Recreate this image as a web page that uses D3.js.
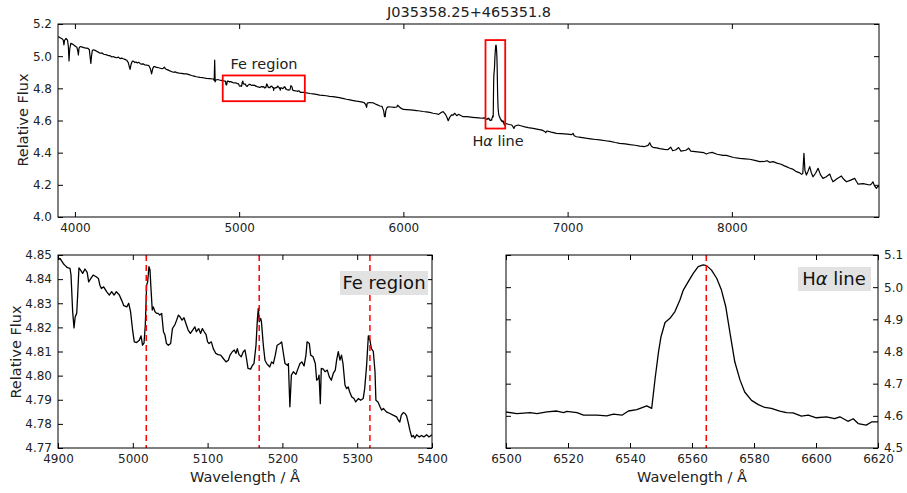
<!DOCTYPE html>
<html><head><meta charset="utf-8">
<script src="https://cdn.jsdelivr.net/npm/d3@7/dist/d3.min.js"></script>
<style>
body{margin:0;background:#fff;}
svg{display:block;font-family:"DejaVu Sans",sans-serif;}
</style></head>
<body><svg id="c" width="907" height="493"></svg>
<script>
// ---------- DATA ----------
const title = "J035358.25+465351.8";

// full spectrum (outside the zoomed windows)
const specWave = [3897,3905,3915,3922,3929,3933,3937,3946,3955,3960,3964,3968,3975,3985,3995,4005,4012,4018,4021,4025,4032,4041,4050,4060,4070,4080,4088,4093,4097,4101,4106,4112,4122,4133,4143,4153,4165,4175,4188,4200,4215,4225,4234,4245,4255,4265,4275,4285,4294,4305,4315,4325,4332,4336,4342,4350,4358,4365,4372,4380,4388,4396,4405,4415,4425,4437,4450,4460,4467,4473,4480,4487,4497,4510,4520,4530,4538,4545,4552,4565,4575,4587,4599,4610,4620,4635,4650,4665,4680,4695,4710,4725,4740,4761,4780,4800,4820,4842,4848,4851,4854,4858,4870,4880,4890,
5410,5430,5450,5470,5491,5510,5530,5550,5572,5590,5610,5630,5654,5675,5695,5715,5735,5750,5760,5770,5776,5780,5795,5816,5835,5857,5870,5880,5885,5889,5893,5900,5908,5925,5945,5960,5965,5970,5980,5999,6020,6040,6060,6080,6100,6120,6140,6160,6181,6200,6215,6230,6242,6255,6265,6273,6282,6293,6303,6313,6325,6335,6344,6355,6364,6380,6400,6420,6440,6460,6480,6490,
6628,6645,6660,6668,6673,6680,6699,6720,6740,6760,6790,6820,6845,6860,6867,6875,6900,6932,6960,7000,7025,7033,7040,7054,7080,7110,7140,7170,7196,7230,7260,7290,7317,7350,7380,7410,7439,7470,7490,7500,7510,7520,7550,7561,7590,7610,7628,7640,7660,7676,7690,7720,7737,7750,7790,7830,7845,7860,7880,7910,7946,7967,8010,8048,8080,8109,8140,8170,8200,8215,8230,8251,8275,8300,8320,8332,8350,8370,8393,8410,8425,8432,8439,8445,8454,8464,8474,8484,8494,8510,8525,8540,8555,8575,8596,8606,8616,8640,8667,8680,8698,8720,8748,8758,8768,8800,8839,8850,8859,8868,8880,8888,8896];
const specFlux = [5.121,5.118,5.112,5.108,5.100,5.070,5.098,5.110,5.100,5.060,4.970,5.040,5.080,5.075,5.068,5.060,5.055,5.030,5.007,5.050,5.060,5.058,5.055,5.052,5.050,5.048,5.040,4.990,4.955,5.000,5.035,5.040,5.036,5.030,5.025,5.018,5.020,5.012,5.010,5.005,5.002,4.995,4.998,4.992,4.990,4.994,4.985,4.988,4.984,4.980,4.975,4.960,4.930,4.918,4.950,4.970,4.968,4.960,4.964,4.958,4.962,4.955,4.950,4.952,4.946,4.944,4.942,4.920,4.890,4.920,4.935,4.935,4.930,4.928,4.925,4.922,4.925,4.932,4.920,4.915,4.910,4.905,4.900,4.902,4.898,4.895,4.893,4.890,4.890,4.885,4.880,4.876,4.872,4.868,4.866,4.862,4.860,4.858,4.850,4.976,4.840,4.852,4.855,4.852,4.850,
4.772,4.768,4.765,4.762,4.758,4.756,4.754,4.750,4.748,4.745,4.742,4.738,4.732,4.728,4.724,4.720,4.717,4.714,4.712,4.700,4.682,4.708,4.712,4.710,4.700,4.690,4.688,4.660,4.624,4.624,4.660,4.680,4.685,4.684,4.682,4.684,4.695,4.690,4.680,4.669,4.668,4.666,4.664,4.662,4.659,4.656,4.654,4.650,4.645,4.642,4.638,4.650,4.655,4.640,4.620,4.599,4.620,4.635,4.634,4.645,4.630,4.638,4.634,4.628,4.624,4.624,4.622,4.620,4.618,4.616,4.614,4.616,
4.580,4.575,4.572,4.560,4.551,4.566,4.572,4.566,4.560,4.556,4.551,4.545,4.540,4.532,4.524,4.535,4.528,4.520,4.518,4.515,4.512,4.520,4.505,4.499,4.495,4.490,4.486,4.482,4.479,4.474,4.470,4.463,4.458,4.455,4.450,4.446,4.441,4.438,4.445,4.462,4.440,4.433,4.428,4.425,4.420,4.418,4.434,4.412,4.418,4.432,4.410,4.415,4.428,4.410,4.405,4.400,4.392,4.398,4.402,4.390,4.383,4.383,4.370,4.365,4.362,4.359,4.352,4.344,4.346,4.350,4.340,4.344,4.335,4.328,4.318,4.313,4.305,4.298,4.282,4.276,4.265,4.270,4.396,4.290,4.261,4.285,4.313,4.275,4.250,4.272,4.303,4.262,4.240,4.250,4.267,4.240,4.219,4.238,4.255,4.236,4.219,4.228,4.240,4.222,4.205,4.208,4.199,4.205,4.219,4.195,4.178,4.190,4.188];

// Fe region window
const feWave = [4900,4902.7,4905,4907,4909,4911.6,4913.8,4916,4917.4,4919.6,4921.4,4923,4925,4926.3,4928,4930,4933,4936,4939,4941,4944,4947,4951,4954,4956,4958,4961,4965,4968.6,4971.7,4975,4978,4982,4985,4988,4992,4994.5,4997,5000,5002,5005,5008.7,5011,5013,5015,5016.7,5018.5,5019.9,5021.6,5023,5024.3,5026,5027.4,5029.7,5032,5034,5036,5038.6,5041,5043,5045,5047.5,5050.6,5053,5056.4,5058.6,5061,5063,5065.8,5068.4,5071,5074,5077,5080,5083,5085,5088,5090.7,5093,5095,5098,5100,5102,5105,5107.6,5111,5114,5117.5,5121,5124.6,5127.7,5130,5133,5135.7,5138,5139.7,5142,5145,5147.7,5150,5152,5154,5157.5,5160,5162,5164.7,5166.5,5167.8,5169,5171,5172,5174.5,5176.7,5179,5181,5183,5185.6,5187.9,5190.5,5193,5196.8,5199,5201,5203.5,5206.6,5208,5210,5212,5214.6,5218,5221,5223.5,5226,5229,5231.5,5233,5236,5237.8,5241,5244,5245.8,5248,5249,5250.7,5252,5254.7,5257,5260,5262.7,5265.4,5268,5270.7,5272.5,5274.7,5277,5279,5281,5283.7,5285.9,5288,5290,5292.6,5295.7,5298,5301.5,5304.6,5308,5310,5312.6,5314.9,5317,5319,5321.5,5323.8,5325,5327.8,5330.5,5332.7,5335,5339,5343.8,5348,5352.7,5355,5357,5359,5361.6,5364,5366,5368,5370.5,5372.8,5375,5377,5379.5,5383,5386,5389,5392.8,5396,5400];
const feFlux = [4.848,4.8486,4.8475,4.8465,4.8458,4.845,4.8447,4.8445,4.8417,4.8265,4.8198,4.8244,4.8258,4.8334,4.8447,4.8438,4.8424,4.8442,4.8428,4.8389,4.8403,4.8417,4.841,4.8403,4.8375,4.8361,4.8368,4.8348,4.8334,4.8348,4.8334,4.8348,4.8334,4.8313,4.829,4.8285,4.83,4.8265,4.8182,4.814,4.8137,4.8147,4.8165,4.8126,4.8135,4.8209,4.8375,4.8389,4.8452,4.8438,4.8361,4.8272,4.8285,4.8265,4.8258,4.8258,4.8251,4.8258,4.8182,4.8168,4.8133,4.8126,4.8133,4.8195,4.8212,4.823,4.8251,4.8244,4.823,4.824,4.8216,4.8189,4.8175,4.8189,4.8202,4.8182,4.8195,4.8175,4.8195,4.8184,4.817,4.814,4.8133,4.814,4.8112,4.8092,4.8087,4.8085,4.8071,4.8057,4.8064,4.8085,4.8099,4.8106,4.8092,4.8112,4.8087,4.8078,4.8099,4.8106,4.8071,4.803,4.8027,4.8043,4.805,4.8126,4.823,4.8279,4.8223,4.8237,4.8223,4.8126,4.8064,4.805,4.8043,4.8036,4.8057,4.805,4.8085,4.8126,4.8133,4.814,4.8099,4.805,4.8043,4.805,4.7871,4.8002,4.8016,4.8005,4.803,4.805,4.8057,4.804,4.8085,4.814,4.8133,4.8085,4.8078,4.805,4.7981,4.7988,4.8002,4.7884,4.803,4.8027,4.8016,4.8023,4.7995,4.7981,4.8009,4.8023,4.8064,4.8099,4.8064,4.8085,4.805,4.796,4.7946,4.7953,4.7932,4.7912,4.7905,4.7891,4.7905,4.7898,4.7905,4.7946,4.8043,4.8165,4.8147,4.8112,4.8101,4.8016,4.7898,4.7891,4.7871,4.7857,4.7864,4.785,4.7843,4.7836,4.7829,4.7815,4.7808,4.7836,4.7847,4.7843,4.7833,4.7808,4.7773,4.7746,4.7752,4.7741,4.7755,4.7746,4.7752,4.7746,4.7755,4.7746,4.7755];

// H-alpha window
const haWave = [6500,6503.5,6507.8,6510,6513.2,6516.4,6518.6,6519.6,6522.9,6525,6529.3,6532.5,6534.7,6537.4,6539.5,6542.2,6545.4,6547,6548.1,6549.2,6550,6551.3,6552.9,6554.5,6556.1,6557.2,6558.8,6560.4,6562,6563.6,6564.7,6566.3,6568,6569.5,6570.9,6572.2,6573.8,6575.5,6577,6579.2,6581.4,6583.5,6585.6,6588.3,6590.5,6592.6,6595.3,6597.5,6600.1,6603.4,6606,6607.7,6610.3,6612,6613.6,6616.2,6617.9,6620];
const haFlux = [4.612,4.607,4.61,4.607,4.612,4.615,4.61,4.614,4.61,4.602,4.602,4.6,4.605,4.602,4.615,4.619,4.631,4.623,4.716,4.799,4.846,4.89,4.903,4.924,4.96,4.991,5.017,5.043,5.064,5.069,5.067,5.053,5.027,4.991,4.939,4.861,4.768,4.711,4.674,4.648,4.635,4.626,4.623,4.615,4.61,4.609,4.599,4.602,4.594,4.597,4.591,4.597,4.583,4.591,4.576,4.571,4.581,4.581];

const feLines = [5018, 5169, 5317];
const haLine = [6564.6];

const topXTicks = [4000,5000,6000,7000,8000];
const topYTicks = [4.0,4.2,4.4,4.6,4.8,5.0,5.2];
const feXTicks = [4900,5000,5100,5200,5300,5400];
const feYTicks = [4.77,4.78,4.79,4.80,4.81,4.82,4.83,4.84,4.85];
const haXTicks = [6500,6520,6540,6560,6580,6600,6620];
const haYTicks = [4.5,4.6,4.7,4.8,4.9,5.0,5.1];

// boxes in top panel [x0,x1,y0,y1]
const feBox = [4900,5400,4.72,4.88];
const haBox = [6500,6620,4.55,5.10];

// ---------- DRAW ----------
const svg = d3.select("#c");
const defs = svg.append("defs");
const LBL = "14.5px";

function panel(id, L, R, T, B, xd, yd) {
  const x = d3.scaleLinear().domain(xd).range([L, R]);
  const y = d3.scaleLinear().domain(yd).range([B, T]);
  defs.append("clipPath").attr("id", id).append("rect")
    .attr("x", L).attr("y", T).attr("width", R - L).attr("height", B - T);
  return {x, y, L, R, T, B, id};
}

function axes(p, xt, yt, xf, yf, yRight) {
  const fs = "12px";
  const bx = svg.append("g").attr("transform", `translate(0,${p.B})`)
    .call(d3.axisBottom(p.x).tickValues(xt).tickFormat(xf).tickSizeInner(-5).tickSizeOuter(0).tickPadding(6));
  const tx = svg.append("g").attr("transform", `translate(0,${p.T})`)
    .call(d3.axisTop(p.x).tickValues(xt).tickFormat("").tickSizeInner(-5).tickSizeOuter(0));
  const ly = svg.append("g").attr("transform", `translate(${p.L},0)`)
    .call(d3.axisLeft(p.y).tickValues(yt).tickFormat(yRight ? "" : yf).tickSizeInner(-5).tickSizeOuter(0).tickPadding(6));
  const ry = svg.append("g").attr("transform", `translate(${p.R},0)`)
    .call(d3.axisRight(p.y).tickValues(yt).tickFormat(yRight ? yf : "").tickSizeInner(-5).tickSizeOuter(0).tickPadding(6));
  [bx, tx, ly, ry].forEach(g => {
    g.select(".domain").remove();
    g.selectAll("line").attr("stroke", "#000").attr("stroke-width", 1);
    g.selectAll("text").attr("font-size", fs).attr("fill", "#222").attr("font-family", "DejaVu Sans");
  });
  svg.append("rect").attr("x", p.L).attr("y", p.T).attr("width", p.R - p.L).attr("height", p.B - p.T)
    .attr("fill", "none").attr("stroke", "#000").attr("stroke-width", 1);
}

function drawLine(p, xs, ys, w) {
  const data = xs.map((v, i) => [v, ys[i]]);
  svg.append("path").datum(data)
    .attr("clip-path", `url(#${p.id})`)
    .attr("fill", "none").attr("stroke", "#000").attr("stroke-width", w).attr("stroke-linejoin", "round")
    .attr("d", d3.line().x(d => p.x(d[0])).y(d => p.y(d[1])));
}

// top panel
const pt = panel("cTop", 58, 879, 24, 217, [3897, 8896], [4.0, 5.2]);
const allPts = specWave.map((v, i) => [v, specFlux[i]])
  .concat(feWave.map((v, i) => [v, feFlux[i]]))
  .concat(haWave.map((v, i) => [v, haFlux[i]]))
  .sort((a, b) => a[0] - b[0]);
drawLine(pt, allPts.map(d => d[0]), allPts.map(d => d[1]), 1.2);
[feBox, haBox].forEach(b => {
  svg.append("rect").attr("x", pt.x(b[0])).attr("y", pt.y(b[3]))
    .attr("width", pt.x(b[1]) - pt.x(b[0])).attr("height", pt.y(b[2]) - pt.y(b[3]))
    .attr("fill", "none").attr("stroke", "#ff0000").attr("stroke-width", 1.8);
});
axes(pt, topXTicks, topYTicks, d3.format("d"), d3.format(".1f"), false);
svg.append("text").attr("x", 264).attr("y", 69).attr("text-anchor", "middle")
  .attr("font-size", LBL).attr("fill", "#222").text("Fe region");
const hl = svg.append("text").attr("x", 498).attr("y", 146).attr("text-anchor", "middle")
  .attr("font-size", LBL).attr("fill", "#222");
hl.append("tspan").text("H");
hl.append("tspan").attr("font-style", "italic").text("α");
hl.append("tspan").text(" line");
svg.append("text").attr("x", 469).attr("y", 17).attr("text-anchor", "middle")
  .attr("font-size", LBL).attr("fill", "#222").text(title);
svg.append("text").attr("transform", "translate(28,120) rotate(-90)").attr("text-anchor", "middle")
  .attr("font-size", LBL).attr("fill", "#222").text("Relative Flux");

// bottom-left: Fe region
const pf = panel("cFe", 58, 432, 255, 448, [4900, 5400], [4.77, 4.85]);
drawLine(pf, feWave, feFlux, 1.3);
feLines.forEach(l => {
  svg.append("line").attr("x1", pf.x(l)).attr("x2", pf.x(l)).attr("y1", pf.T).attr("y2", pf.B)
    .attr("stroke", "#ff0000").attr("stroke-width", 1.5).attr("stroke-dasharray", "6,4");
});
axes(pf, feXTicks, feYTicks, d3.format("d"), d3.format(".2f"), false);
svg.append("rect").attr("x", 340).attr("y", 271).attr("width", 88).attr("height", 24).attr("fill", "#e2e2e2");
svg.append("text").attr("x", 384).attr("y", 289).attr("text-anchor", "middle")
  .attr("font-size", "18px").attr("fill", "#111").text("Fe region");
svg.append("text").attr("transform", "translate(21,352) rotate(-90)").attr("text-anchor", "middle")
  .attr("font-size", LBL).attr("fill", "#222").text("Relative Flux");
svg.append("text").attr("x", 245).attr("y", 482).attr("text-anchor", "middle")
  .attr("font-size", LBL).attr("fill", "#222").text("Wavelength / Å");

// bottom-right: H-alpha
const ph = panel("cHa", 506, 878, 255, 448, [6500, 6620], [4.5, 5.1]);
drawLine(ph, haWave, haFlux, 1.3);
haLine.forEach(l => {
  svg.append("line").attr("x1", ph.x(l)).attr("x2", ph.x(l)).attr("y1", ph.T).attr("y2", ph.B)
    .attr("stroke", "#ff0000").attr("stroke-width", 1.5).attr("stroke-dasharray", "6,4");
});
axes(ph, haXTicks, haYTicks, d3.format("d"), d3.format(".1f"), true);
svg.append("rect").attr("x", 798).attr("y", 267).attr("width", 73).attr("height", 24).attr("fill", "#e2e2e2");
const ht = svg.append("text").attr("x", 834).attr("y", 285).attr("text-anchor", "middle")
  .attr("font-size", "18px").attr("fill", "#111");
ht.append("tspan").text("H");
ht.append("tspan").attr("font-style", "italic").text("α");
ht.append("tspan").text(" line");
svg.append("text").attr("x", 692).attr("y", 482).attr("text-anchor", "middle")
  .attr("font-size", LBL).attr("fill", "#222").text("Wavelength / Å");
</script>
</body></html>
